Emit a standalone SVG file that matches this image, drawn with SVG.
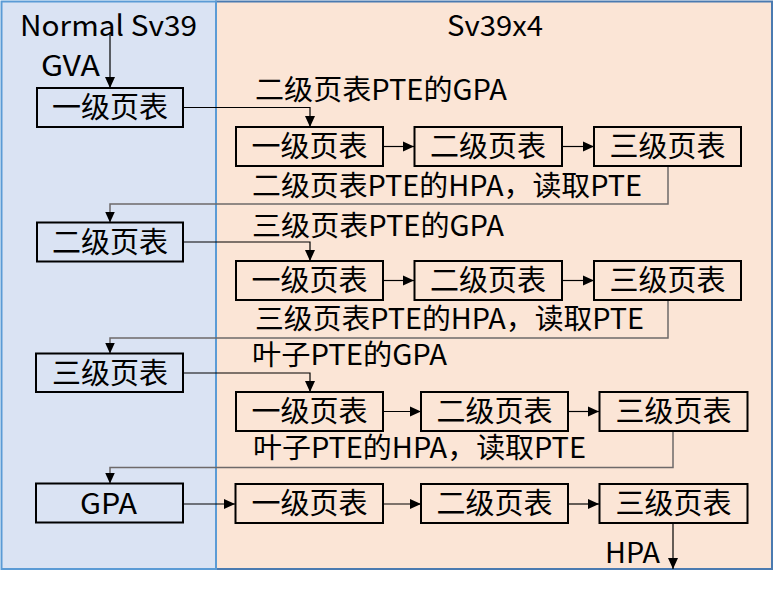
<svg xmlns="http://www.w3.org/2000/svg" width="775" height="590" viewBox="0 0 775 590">
<style>
  text { font-family: "Noto Sans CJK SC", "Noto Sans", sans-serif; font-size: 28px; fill: #000; }
  .c { text-anchor: middle; font-size: 29px; }
  .box { fill: none; stroke: #000; stroke-width: 2; }
  .ln { fill: none; stroke: #000; stroke-width: 1.2; }
  .ret { fill: none; stroke: #6e6a6a; stroke-width: 1.5; }
</style>
<defs>
  <marker id="ah" markerUnits="userSpaceOnUse" markerWidth="12" markerHeight="12" refX="11" refY="6" orient="auto">
    <path d="M0,1 L11,6 L0,11 Z" fill="#000"/>
  </marker>
</defs>
<g id="panels">
  <rect x="216" y="1.5" width="556" height="567.5" fill="#fbe5d6" stroke="#4a7ab0" stroke-width="2"/>
  <rect x="1.5" y="1.5" width="214.5" height="567.5" fill="#dae3f3" stroke="#5b9bd5" stroke-width="2"/>
  <text x="20" y="36" textLength="177" lengthAdjust="spacingAndGlyphs">Normal Sv39</text>
  <text x="447" y="36" textLength="96" lengthAdjust="spacingAndGlyphs">Sv39x4</text>
</g>
<g id="labels">
  <text x="41" y="76" textLength="59" lengthAdjust="spacingAndGlyphs">GVA</text>
  <text x="255" y="100" textLength="252" lengthAdjust="spacingAndGlyphs">二级页表PTE的GPA</text>
  <text x="252" y="196" textLength="390" lengthAdjust="spacingAndGlyphs">二级页表PTE的HPA，读取PTE</text>
  <text x="252" y="236" textLength="252" lengthAdjust="spacingAndGlyphs">三级页表PTE的GPA</text>
  <text x="255" y="329" textLength="389" lengthAdjust="spacingAndGlyphs">三级页表PTE的HPA，读取PTE</text>
  <text x="252" y="365" textLength="195" lengthAdjust="spacingAndGlyphs">叶子PTE的GPA</text>
  <text x="253" y="458" textLength="333" lengthAdjust="spacingAndGlyphs">叶子PTE的HPA，读取PTE</text>
  <text x="605" y="563" textLength="55" lengthAdjust="spacingAndGlyphs">HPA</text>
</g>
<g id="connectors">
  <path class="ln" d="M110,32 V88" marker-end="url(#ah)"/>
  <path class="ln" d="M183,107.5 H310 V127" marker-end="url(#ah)"/>
  <path class="ln" d="M383,146.5 H414" marker-end="url(#ah)"/>
  <path class="ln" d="M562,146.5 H594" marker-end="url(#ah)"/>
  <path class="ret" d="M668,166 V204 H110 V222.5" marker-end="url(#ah)"/>
  <path class="ln" d="M183,242 H310 V261" marker-end="url(#ah)"/>
  <path class="ln" d="M383,280.5 H414" marker-end="url(#ah)"/>
  <path class="ln" d="M562,280.5 H594" marker-end="url(#ah)"/>
  <path class="ret" d="M668,300 V338 H110 V353.5" marker-end="url(#ah)"/>
  <path class="ln" d="M183,373 H310 V392" marker-end="url(#ah)"/>
  <path class="ln" d="M383,411.5 H421" marker-end="url(#ah)"/>
  <path class="ln" d="M568,411.5 H599" marker-end="url(#ah)"/>
  <path class="ret" d="M673,431 V467.5 H110 V483.5" marker-end="url(#ah)"/>
  <path class="ln" d="M183,504 H235" marker-end="url(#ah)"/>
  <path class="ln" d="M383,504 H421" marker-end="url(#ah)"/>
  <path class="ln" d="M568,504 H599" marker-end="url(#ah)"/>
  <path class="ln" d="M673,523 V569" marker-end="url(#ah)"/>
</g>
<g id="L1"><rect class="box" x="37" y="88" width="146" height="39"/><text class="c" x="110" y="118">一级页表</text></g>
<g id="L2"><rect class="box" x="37" y="222.5" width="146" height="39"/><text class="c" x="110" y="252.5">二级页表</text></g>
<g id="L3"><rect class="box" x="36" y="353.5" width="147" height="38.5"/><text class="c" x="110" y="383.5">三级页表</text></g>
<g id="L4"><rect class="box" x="36" y="483.5" width="147" height="39"/><text x="80" y="514" textLength="57" lengthAdjust="spacingAndGlyphs" style="font-size:29px">GPA</text></g>

<g id="R1a"><rect class="box" x="236" y="127" width="147" height="39"/><text class="c" x="309.5" y="157">一级页表</text></g>
<g id="R1b"><rect class="box" x="414.5" y="127" width="147.5" height="39"/><text class="c" x="488" y="157">二级页表</text></g>
<g id="R1c"><rect class="box" x="594" y="127" width="147" height="39"/><text class="c" x="667.5" y="157">三级页表</text></g>

<g id="R2a"><rect class="box" x="236" y="261" width="147" height="39"/><text class="c" x="309.5" y="291">一级页表</text></g>
<g id="R2b"><rect class="box" x="414.5" y="261" width="147.5" height="39"/><text class="c" x="488" y="291">二级页表</text></g>
<g id="R2c"><rect class="box" x="594" y="261" width="147" height="39"/><text class="c" x="667.5" y="291">三级页表</text></g>

<g id="R3a"><rect class="box" x="236" y="392" width="147" height="39"/><text class="c" x="309.5" y="422">一级页表</text></g>
<g id="R3b"><rect class="box" x="421" y="392" width="147" height="39"/><text class="c" x="494.5" y="422">二级页表</text></g>
<g id="R3c"><rect class="box" x="599.5" y="392" width="148" height="39"/><text class="c" x="673.5" y="422">三级页表</text></g>

<g id="R4a"><rect class="box" x="235.5" y="484" width="147.5" height="39"/><text class="c" x="309.5" y="514">一级页表</text></g>
<g id="R4b"><rect class="box" x="421" y="484" width="147" height="39"/><text class="c" x="494.5" y="514">二级页表</text></g>
<g id="R4c"><rect class="box" x="599.5" y="484" width="148" height="39"/><text class="c" x="673.5" y="514">三级页表</text></g>
</svg>
